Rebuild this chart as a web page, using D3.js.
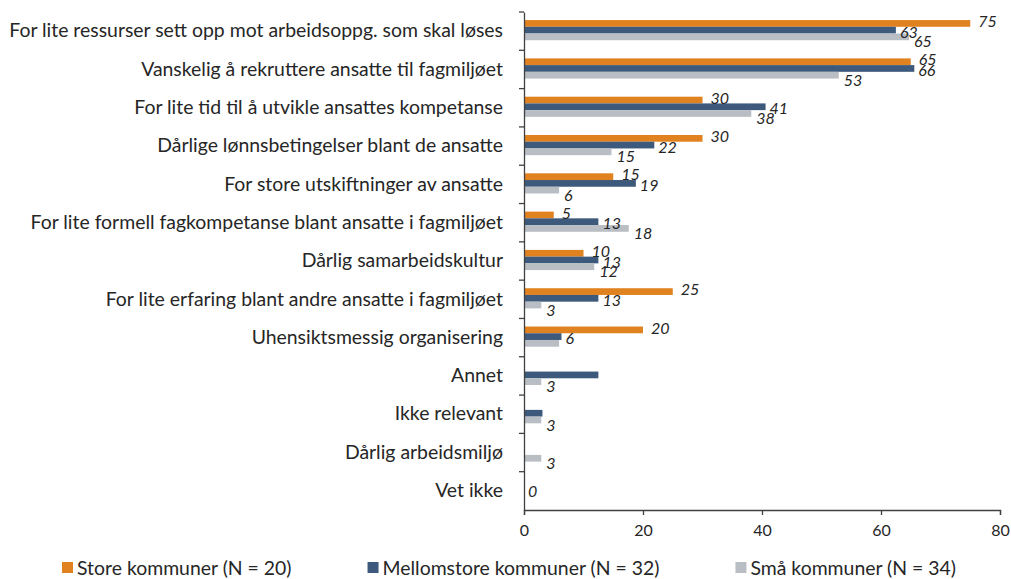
<!DOCTYPE html>
<html>
<head>
<meta charset="utf-8">
<script src="https://cdn.jsdelivr.net/npm/d3@7"></script>
<style>
  body { margin: 0; background: #fff; }
  text { font-family: Lato, "Open Sans", sans-serif; fill: #262626; }
</style>
</head>
<body>
<svg id="chart"></svg>
<script>
var categories = [
  'For lite ressurser sett opp mot arbeidsoppg. som skal løses',
  'Vanskelig å rekruttere ansatte til fagmiljøet',
  'For lite tid til å utvikle ansattes kompetanse',
  'Dårlige lønnsbetingelser blant de ansatte',
  'For store utskiftninger av ansatte',
  'For lite formell fagkompetanse blant ansatte i fagmiljøet',
  'Dårlig samarbeidskultur',
  'For lite erfaring blant andre ansatte i fagmiljøet',
  'Uhensiktsmessig organisering',
  'Annet',
  'Ikke relevant',
  'Dårlig arbeidsmiljø',
  'Vet ikke'
]

var seriesNames = ['Store kommuner (N = 20)', 'Mellomstore kommuner (N = 32)', 'Små kommuner (N = 34)']

var storeVals = [75, 65, 30, 30, 15, 5, 10, 25, 20, 0, 0, 0, 0]
var mellomVals = [62.5, 65.6, 40.6, 21.9, 18.8, 12.5, 12.5, 12.5, 6.3, 12.5, 3.1, 0, 0]
var smaVals = [64.7, 52.9, 38.2, 14.7, 5.9, 17.6, 11.8, 2.9, 5.9, 2.9, 2.9, 2.9, 0]

// data labels as printed (some are missing in the original)
var storeLabels = ['75', '65', '30', '30', '15', '5', '10', '25', '20', null, null, null, null]
var mellomLabels = ['63', '66', '41', '22', '19', '13', '13', '13', '6', null, null, null, '0']
var smaLabels = ['65', '53', '38', '15', '6', '18', '12', '3', null, '3', '3', '3', null]

var xTicks = [0, 20, 40, 60, 80]

var colors = ['#e0821f', '#3d5a7c', '#b8bec4']
var labelDx = [8, 4, 5]
var labelDy = [-2, 2, 5]

var margin = {top: 12, right: 11, bottom: 69, left: 524},
  width = 1011 - margin.left - margin.right,
  height = 579 - margin.top - margin.bottom

var svg = d3.select('#chart')
  .attr('width', 1011)
  .attr('height', 579)

var g = svg.append('g')
  .attr('transform', 'translate(' + margin.left + ',' + margin.top + ')')

var x = d3.scaleLinear()
  .domain([0, 80])
  .range([0, width])

var y = d3.scaleBand()
  .domain(categories)
  .range([0, height])

var groupH = y.bandwidth() / 1.9
var y1 = d3.scaleBand()
  .domain([0, 1, 2])
  .range([(y.bandwidth() - groupH) / 2 - 1, (y.bandwidth() + groupH) / 2 - 1])

var series = [
  {vals: storeVals, labels: storeLabels},
  {vals: mellomVals, labels: mellomLabels},
  {vals: smaVals, labels: smaLabels}
]

var rows = categories.map((c, i) => ({cat: c, items: series.map((s, k) => ({k: k, v: s.vals[i], label: s.labels[i]}))}))

var groups = g.selectAll('.grp')
  .data(rows)
  .enter()
  .append('g')
    .attr('class', 'grp')
    .attr('transform', d => 'translate(0,' + y(d.cat) + ')')

groups.selectAll('rect')
  .data(d => d.items.filter(it => it.v > 0))
  .enter()
  .append('rect')
    .attr('x', 0)
    .attr('y', d => y1(d.k))
    .attr('width', d => x(d.v))
    .attr('height', y1.bandwidth())
    .style('fill', d => colors[d.k])

groups.selectAll('.lbl')
  .data(d => d.items.filter(it => it.label != null))
  .enter()
  .append('text')
    .attr('class', 'lbl')
    .attr('x', d => x(d.v) + labelDx[d.k])
    .attr('y', d => y1(d.k) + y1.bandwidth() / 2 + labelDy[d.k])
    .attr('dy', '0.35em')
    .style('font-size', '16px')
    .style('font-style', 'italic')
    .text(d => d.label)

// AXES
var xAxis = g.append('g')
  .attr('transform', 'translate(0,' + height + ')')
  .call(d3.axisBottom(x).tickValues(xTicks).tickSize(5).tickSizeOuter(5).tickPadding(10))
xAxis.selectAll('text').style('font-size', '16px')

var yAxis = g.append('g')
  .call(d3.axisLeft(y).tickSize(0).tickPadding(21))
yAxis.selectAll('text').style('font-size', '17px')

// tick marks between categories
g.append('g')
  .selectAll('line')
  .data(categories)
  .enter()
  .append('line')
    .attr('x1', -5)
    .attr('x2', 0)
    .attr('y1', d => y(d))
    .attr('y2', d => y(d))

g.selectAll('.domain, .tick line, g > line')
  .attr('stroke', '#404040')
  .attr('stroke-width', 1.3)

// fit category labels to original width
var longest = d3.max(yAxis.selectAll('text').nodes(), n => n.getComputedTextLength())
var catSize = 17 * 494 / longest
yAxis.selectAll('text').style('font-size', catSize + 'px')

// LEGEND
var legend = svg.append('g').attr('transform', 'translate(62,568)')
var lx = 0
seriesNames.forEach((name, k) => {
  legend.append('rect')
    .attr('x', lx)
    .attr('y', -6)
    .attr('width', 11)
    .attr('height', 11)
    .style('fill', colors[k])
  var t = legend.append('text')
    .attr('x', lx + 15)
    .attr('y', 0)
    .attr('dy', '0.35em')
    .style('font-size', catSize + 'px')
    .text(name)
  lx += 15 + t.node().getComputedTextLength() + 76
})
</script>
</body>
</html>
